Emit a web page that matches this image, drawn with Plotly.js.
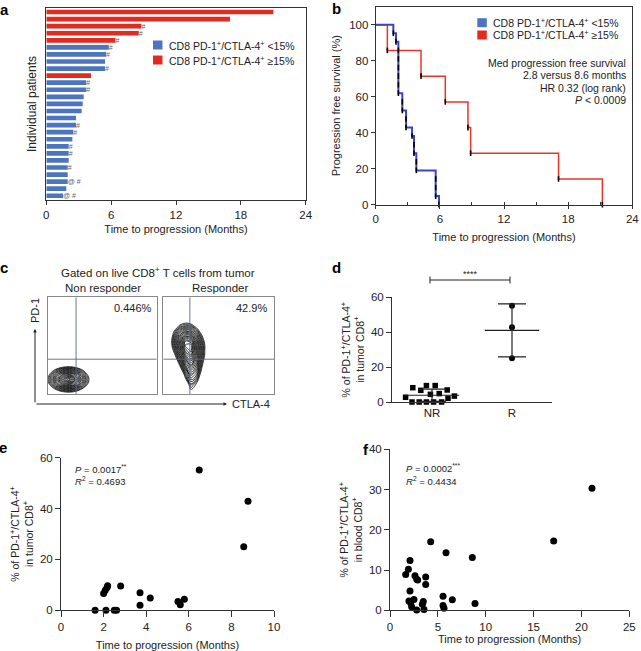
<!DOCTYPE html>
<html><head><meta charset="utf-8">
<script src="https://cdn.plot.ly/plotly-3.0.1.min.js"></script>
<style>html,body{margin:0;padding:0;background:#fff}#chart{width:641px;height:651px}</style>
</head><body><div id="chart"></div>
<script>
// ---------- DATA ----------
// Panel a: time to progression per patient (top to bottom)
const patientTTP = [21.0,17.0,8.8,8.55,6.4,5.78,5.53,5.43,5.43,4.14,3.7,3.7,3.46,3.37,3.27,2.75,2.75,2.5,2.41,2.07,2.07,2.07,1.98,1.98,1.98,1.85,1.55];
const patientGroup = ['hi','hi','hi','hi','hi','lo','lo','lo','lo','hi','lo','lo','lo','lo','lo','lo','lo','lo','lo','lo','lo','lo','lo','lo','lo','lo','lo'];
const patientNote = ['','','#','#','#','#','#','','#','','#','#','','','','','#','#','','#','#','','#','','@ #','','@ #'];
const groupLabels = ['CD8 PD-1<sup>+</sup>/CTLA-4<sup>+</sup> &lt;15%','CD8 PD-1<sup>+</sup>/CTLA-4<sup>+</sup> ≥15%'];

// Panel b: Kaplan-Meier steps
const kmLowT = [1.65,1.9,2.12,2.49,2.84,3.40,3.58,3.80,5.61,5.92];
const kmLowS = [95.2,90.5,61.9,52.4,42.9,38.1,28.6,19.0,4.8,0];
const kmHighT = [1.09,4.24,6.51,8.63,8.88,17.1,21.2];
const kmHighS = [85.7,71.4,57.1,42.9,28.6,14.3,0];
const kmLowN = 21, kmHighN = 7;
const kmText = ['Med progression free survival','2.8 versus 8.6 months','HR 0.32 (log rank)','<i>P</i> &lt; 0.0009'];

// Panel c: estimated contour density levels (CTLA-4 x PD-1, box units 0-100)
const ncGridX = [0,5,10,15,20,25,30,35,40,45];
const ncGridY = [0,5,10,15,20,25,30,35];
const ncDensity = [
 [-4.8,-3.2,-2.0,-1.3,-1.1,-1.5,-2.5,-3.8,-5.5,-7.4],
 [-2.2,-0.3,1.3,2.3,2.6,2.0,0.7,-1.1,-3.1,-5.3],
 [-0.4,1.9,4.1,5.8,6.3,5.2,3.3,1.0,-1.4,-3.8],
 [0.26,2.8,5.4,7.9,9.5,6.9,4.4,1.8,-0.8,-3.3],
 [-0.4,1.9,4.1,5.8,6.3,5.2,3.3,1.0,-1.4,-3.8],
 [-2.0,-0.1,1.5,2.5,2.8,2.2,0.9,-0.9,-2.9,-5.1],
 [-4.8,-3.2,-2.0,-1.3,-1.1,-1.5,-2.5,-3.8,-5.5,-7.4],
 [-9,-7,-6,-5,-4.8,-5,-6,-7,-8,-10]];
const rcGridX = [0,5,10,15,20,25,30,35,40,45];
const rcGridY = [0,10,20,30,40,45,50,55,60,65,70,75,80];
const rcDensity = [
 [-28.6,-21.8,-15.2,-9.0,-3.7,-0.7,-2.1,-6.7,-12.7,-19.2],
 [-23.6,-17.6,-11.7,-6.2,-1.3,1.4,0.1,-4.1,-9.5,-15.2],
 [-16.8,-12,-7.2,-2.7,1.2,3.5,2.5,-1.0,-5.4,-10],
 [-11.3,-7.2,-3.2,0.6,4.0,5.7,4.0,0.6,-3.2,-7.2],
 [-7.3,-3.7,-0.2,3.2,6.4,7.8,5.2,1.9,-1.6,-5.2],
 [-6.2,-2.4,1.0,4.4,7.6,8.5,5.4,2.0,-1.4,-4.9],
 [-5.3,-1.6,1.8,5.1,8.4,8.7,5.3,2.0,-1.3,-4.7],
 [-5.1,-1.4,1.9,5.0,7.8,7.3,4.6,1.4,-1.8,-5.1],
 [-5.2,-1.8,1.4,4.0,5.9,5.4,3.2,0.4,-2.7,-5.9],
 [-5.6,-2.5,0.4,2.6,3.9,3.3,1.6,-1.0,-3.8,-6.9],
 [-6.3,-3.5,-1.1,0.8,1.6,1.3,-0.3,-2.5,-5.2,-8.0],
 [-7.2,-4.7,-2.5,-1.0,-0.4,-0.8,-2.2,-4.2,-6.7,-9.4],
 [-8.3,-6.0,-4.2,-2.9,-2.5,-2.9,-4.2,-6.0,-8.3,-10.8]];
const gateNR = [26, 36], gateR = [24, 36];
const quadPct = ['0.446%','42.9%'];

// Panel d
const nrValues = [8.2,6.7,9.4,9.4,4.4,4.8,6.9,2.7,3.4,2.1,0,0,0,0,0];
const nrJitter = [-0.24,-0.14,-0.07,0.04,-0.02,0.09,0.19,-0.33,0.28,0.2,-0.25,-0.16,-0.07,0.02,0.12];
const rValues = [55.2,42.9,25.0];
const rJitter = [0,0,0];
const dCats = ['NR','R'];

// Panel e: tumor
const tumorTTP = [1.6,2.0,2.08,2.11,2.16,2.19,2.5,2.61,2.8,3.71,3.71,4.19,5.49,5.6,5.79,6.49,8.58,8.78];
const tumorPct = [0,6.6,7.9,0,9.0,9.7,0,0,9.6,6.9,2.0,4.8,3.5,2.2,4.3,55.2,25.0,42.9];
// Panel f: blood
const bloodTTP = [1.64,1.92,2.09,2.09,1.98,2.16,2.26,2.5,2.61,2.79,2.89,2.79,3.38,3.48,3.55,3.73,3.73,4.25,5.54,5.54,5.64,5.85,6.51,8.6,8.88,17.1,21.1];
const bloodPct = [8.9,10.2,12.4,4.8,2.3,1.9,0.9,2.7,8.6,7.7,7.5,0.1,1.5,2.2,0.2,8.3,6.4,17.0,3.5,1.2,0.5,14.3,2.6,13.1,1.7,17.2,30.3];

// ---------- HELPERS ----------
const W = 641, H = 651;
const X = px => px / W, Y = py => 1 - py / H;
const FONT = 'Liberation Sans, Arial, Helvetica, sans-serif';
const INK = '#222';
const BLUE = '#4d74c1', RED = '#e32a1f';
const mean = a => a.reduce((s, v) => s + v, 0) / a.length;
const sd = a => { const m = mean(a); return Math.sqrt(a.reduce((s, v) => s + (v - m) * (v - m), 0) / (a.length - 1)); };

const traces = [];

// Panel a bars
['lo','hi'].forEach(g => {
  const idx = patientTTP.map((_, i) => i).filter(i => patientGroup[i] === g);
  traces.push({
    type: 'bar', orientation: 'h', xaxis: 'x', yaxis: 'y',
    x: idx.map(i => patientTTP[i]), y: idx.map(i => i + 1),
    text: idx.map(i => patientNote[i]), textposition: 'outside', cliponaxis: false,
    constraintext: 'none', textfont: {size: 7, color: '#666', family: FONT},
    width: 0.66, marker: {color: g === 'hi' ? RED : BLUE, line: {width: 0}},
    hoverinfo: 'skip', showlegend: false
  });
});

// Panel b KM
function kmTrace(T, S, color, w) {
  return {type: 'scatter', mode: 'lines', xaxis: 'x2', yaxis: 'y2',
    x: [0].concat(T), y: [100].concat(S), line: {shape: 'hv', color: color, width: w},
    hoverinfo: 'skip', showlegend: false, cliponaxis: false};
}
function kmMarks(T, S, n) {
  const step = 100 / n, xs = [], ys = [];
  let prev = 100;
  T.forEach((t, i) => {
    const k = Math.round((prev - S[i]) / step);
    for (let j = 1; j <= k; j++) { xs.push(t); ys.push(prev - j * step); }
    prev = S[i];
  });
  return {type: 'scatter', mode: 'markers', xaxis: 'x2', yaxis: 'y2', x: xs, y: ys,
    marker: {symbol: 'line-ns', size: 4, line: {color: '#000', width: 1.6}},
    hoverinfo: 'skip', showlegend: false, cliponaxis: false};
}
traces.push(kmTrace(kmHighT, kmHighS, '#e8352c', 1.5));
traces.push(kmTrace(kmLowT, kmLowS, '#3c44c6', 2));
traces.push(kmMarks(kmHighT, kmHighS, kmHighN));
traces.push(kmMarks(kmLowT, kmLowS, kmLowN));

// Panel c contours
function contour(x, y, z, xa, ya, step) {
  return {type: 'contour', x: x, y: y, z: z, xaxis: xa, yaxis: ya,
    autocontour: false, contours: {start: 0.3, end: 10, size: step, coloring: 'lines'},
    colorscale: [[0, '#000'], [1, '#000']], showscale: false,
    line: {width: 0.75, smoothing: 1.3}, hoverinfo: 'skip'};
}
traces.push(contour(ncGridX, ncGridY, ncDensity, 'x3', 'y3', 0.45));
traces.push(contour(rcGridX, rcGridY, rcDensity, 'x4', 'y4', 0.42));

// Panel d
traces.push({type: 'scatter', mode: 'markers', xaxis: 'x5', yaxis: 'y5',
  x: nrJitter.map(j => 0 + j), y: nrValues, cliponaxis: false,
  marker: {symbol: 'square', size: 5.5, color: '#000'}, hoverinfo: 'skip', showlegend: false});
traces.push({type: 'scatter', mode: 'markers', xaxis: 'x5', yaxis: 'y5',
  x: rJitter.map(j => 1 + j), y: rValues, cliponaxis: false,
  marker: {symbol: 'circle', size: 6, color: '#000'}, hoverinfo: 'skip', showlegend: false});
[nrValues, rValues].forEach((vals, c) => {
  const m = mean(vals), s = sd(vals);
  traces.push({type: 'scatter', mode: 'lines', xaxis: 'x5', yaxis: 'y5',
    x: [c - 0.34, c + 0.34], y: [m, m], line: {color: INK, width: 1.2},
    hoverinfo: 'skip', showlegend: false, cliponaxis: false});
  traces.push({type: 'scatter', mode: 'markers', xaxis: 'x5', yaxis: 'y5',
    x: [c], y: [m], marker: {size: 1, color: 'rgba(0,0,0,0)'},
    error_y: {type: 'data', array: [s], visible: true, color: INK, thickness: 1.2, width: 14},
    hoverinfo: 'skip', showlegend: false, cliponaxis: false});
});

// Panel e, f
traces.push({type: 'scatter', mode: 'markers', xaxis: 'x6', yaxis: 'y6', x: tumorTTP, y: tumorPct,
  cliponaxis: false, marker: {size: 7, color: '#000'}, hoverinfo: 'skip', showlegend: false});
traces.push({type: 'scatter', mode: 'markers', xaxis: 'x7', yaxis: 'y7', x: bloodTTP, y: bloodPct,
  cliponaxis: false, marker: {size: 7, color: '#000'}, hoverinfo: 'skip', showlegend: false});

// ---------- LAYOUT ----------
const tickFont = {family: FONT, size: 11.5, color: INK};
const titleFont = {family: FONT, size: 11, color: INK};
const ytFont = {family: FONT, size: 10.5, color: INK};
function ax(extra) {
  return Object.assign({showgrid: false, zeroline: false, showline: true, linecolor: '#333', linewidth: 1,
    ticks: 'outside', ticklen: 4, tickcolor: '#333', tickfont: tickFont, fixedrange: true}, extra);
}
const layout = {
  width: W, height: H, margin: {l: 0, r: 0, t: 0, b: 0},
  paper_bgcolor: '#fff', plot_bgcolor: '#fff', font: {family: FONT, color: INK}, showlegend: false,
  hovermode: false,
  // a
  xaxis: ax({domain: [X(46.3), X(305.7)], anchor: 'y', range: [0, 24], tickvals: [0,6,12,18,24], mirror: true,
    title: {text: 'Time to progression (Months)', font: titleFont, standoff: 5}}),
  yaxis: ax({domain: [Y(200), Y(8)], anchor: 'x', range: [27.6, 0.43], ticks: '', showticklabels: false, mirror: true,
    title: {text: 'Individual patients', font: {family: FONT, size: 12, color: INK}, standoff: 6}}),
  // b
  xaxis2: ax({domain: [X(375.7), X(632.3)], anchor: 'y2', range: [0, 24], tickvals: [0,6,12,18,24], mirror: true, ticklen: 3,
    minor: {dtick: 3, ticks: 'inside', ticklen: 3, tickcolor: '#333'},
    title: {text: 'Time to progression (Months)', font: titleFont, standoff: 9}}),
  yaxis2: ax({domain: [Y(204.7), Y(6.7)], anchor: 'x2', range: [0, 110], tickvals: [0,20,40,60,80,100], mirror: true,
    title: {text: 'Progression free survival (%)', font: titleFont, standoff: 6}}),
  // c
  xaxis3: ax({domain: [X(47.7), X(156.7)], anchor: 'y3', range: [0, 100], ticks: '', showticklabels: false, mirror: true, linecolor: '#888'}),
  yaxis3: ax({domain: [Y(394), Y(297.3)], anchor: 'x3', range: [0, 100], ticks: '', showticklabels: false, mirror: true, linecolor: '#888'}),
  xaxis4: ax({domain: [X(163.3), X(274)], anchor: 'y4', range: [0, 100], ticks: '', showticklabels: false, mirror: true, linecolor: '#888'}),
  yaxis4: ax({domain: [Y(394), Y(297.3)], anchor: 'x4', range: [0, 100], ticks: '', showticklabels: false, mirror: true, linecolor: '#888'}),
  // d
  xaxis5: ax({domain: [X(392), X(552)], anchor: 'y5', range: [-0.5, 1.5], tickvals: [0, 1], ticktext: dCats, ticks: ''}),
  yaxis5: ax({domain: [Y(402), Y(297.3)], anchor: 'x5', range: [0, 60], tickvals: [0,20,40,60], ticklen: 5,
    title: {text: '% of PD-1<sup>+</sup>/CTLA-4<sup>+</sup><br>in tumor CD8<sup>+</sup>', font: ytFont, standoff: 4}}),
  // e
  xaxis6: ax({domain: [X(61), X(274)], anchor: 'y6', range: [0, 10], tickvals: [0,2,4,6,8,10], ticklen: 6,
    title: {text: 'Time to progression (Months)', font: titleFont, standoff: 10}}),
  yaxis6: ax({domain: [Y(610.3), Y(457.7)], anchor: 'x6', range: [0, 60], tickvals: [0,20,40,60], ticklen: 5,
    title: {text: '% of PD-1<sup>+</sup>/CTLA-4<sup>+</sup><br>in tumor CD8<sup>+</sup>', font: ytFont, standoff: 4}}),
  // f
  xaxis7: ax({domain: [X(390), X(629.3)], anchor: 'y7', range: [0, 25], tickvals: [0,5,10,15,20,25], ticklen: 6,
    title: {text: 'Time to progression (Months)', font: titleFont, standoff: 1}}),
  yaxis7: ax({domain: [Y(610.3), Y(449.3)], anchor: 'x7', range: [0, 40], tickvals: [0,10,20,30,40], ticklen: 5,
    title: {text: '% of PD-1<sup>+</sup>/CTLA-4<sup>+</sup><br>in blood CD8<sup>+</sup>', font: ytFont, standoff: 4}}),
  shapes: [],
  annotations: []
};

const S = layout.shapes, A = layout.annotations;
function txt(x, y, text, o) {
  A.push(Object.assign({xref: 'paper', yref: 'paper', x: X(x), y: Y(y), text: text, showarrow: false,
    xanchor: 'left', yanchor: 'middle', font: {family: FONT, size: 10.5, color: INK}}, o || {}));
}
// panel letters
[['a',4,9],['b',336,8],['c',4,267],['d',336,267],['e',3,447],['f',366,449]].forEach(p =>
  txt(p[1], p[2], '<b>' + p[0] + '</b>', {xanchor: 'center', font: {family: FONT, size: 15, color: '#000'}}));

// legends a & b
function legend(x0, y0, dy) {
  [BLUE, RED].forEach((c, i) => {
    const yc = y0 + i * dy;
    S.push({type: 'rect', xref: 'paper', yref: 'paper', x0: X(x0), x1: X(x0 + 9.5), y0: Y(yc + 4.5), y1: Y(yc - 4.5),
      fillcolor: c, line: {width: 0}});
    txt(x0 + 14, yc, groupLabels[i]);
  });
}
legend(153, 45, 15);
legend(477.3, 22.7, 12.3);
// KM text
kmText.forEach((t, i) => txt(628, 63 + i * 12.4, t, {xanchor: 'right'}));

// panel c text
txt(157.5, 271.7, 'Gated on live CD8<sup>+</sup> T cells from tumor', {xanchor: 'center', font: {family: FONT, size: 11.5, color: INK}});
txt(102.5, 288, 'Non responder', {xanchor: 'center', font: {family: FONT, size: 11.5, color: INK}});
txt(220, 288, 'Responder', {xanchor: 'center', font: {family: FONT, size: 11.5, color: INK}});
txt(154, 307.7, quadPct[0], {xanchor: 'right', font: {family: FONT, size: 11, color: INK}});
txt(269, 307.7, quadPct[1], {xanchor: 'right', font: {family: FONT, size: 11, color: INK}});
[[gateNR, 'x3', 'y3'], [gateR, 'x4', 'y4']].forEach(g => {
  S.push({type: 'line', xref: g[1], yref: g[2], x0: g[0][0], x1: g[0][0], y0: 0, y1: 100, line: {color: '#5a6690', width: 0.9}});
  S.push({type: 'line', xref: g[1], yref: g[2], x0: 0, x1: 100, y0: g[0][1], y1: g[0][1], line: {color: '#5a6690', width: 0.9}});
});
// PD-1 / CTLA-4 arrows
A.push({xref: 'paper', yref: 'paper', x: X(35), y: Y(329), ax: 0, ay: 75, text: '', showarrow: true,
  arrowhead: 2, arrowsize: 0.7, arrowwidth: 1, arrowcolor: INK});
A.push({xref: 'paper', yref: 'paper', x: X(227), y: Y(404), ax: -192, ay: 0, text: '', showarrow: true,
  arrowhead: 2, arrowsize: 0.7, arrowwidth: 1, arrowcolor: INK});
txt(35, 311, 'PD-1', {xanchor: 'center', textangle: -90, font: {family: FONT, size: 11, color: INK}});
txt(230, 404, 'CTLA-4', {font: {family: FONT, size: 11, color: INK}});

// panel d significance bracket
S.push({type: 'line', xref: 'paper', yref: 'paper', x0: X(430), x1: X(510), y0: Y(280), y1: Y(280), line: {color: INK, width: 1}});
S.push({type: 'line', xref: 'paper', yref: 'paper', x0: X(430), x1: X(430), y0: Y(276.5), y1: Y(283.5), line: {color: INK, width: 1}});
S.push({type: 'line', xref: 'paper', yref: 'paper', x0: X(510), x1: X(510), y0: Y(276.5), y1: Y(283.5), line: {color: INK, width: 1}});
txt(470, 273.5, '****', {xanchor: 'center', font: {family: FONT, size: 9, color: INK}});

// stats e/f
txt(73, 469, '<i>P</i> = 0.0017<sup>**</sup>', {font: {family: FONT, size: 9.5, color: INK}});
txt(73, 481, '<i>R</i><sup>2</sup> = 0.4693', {font: {family: FONT, size: 9.5, color: INK}});
txt(404, 468, '<i>P</i> = 0.0002<sup>***</sup>', {font: {family: FONT, size: 9.5, color: INK}});
txt(404, 481, '<i>R</i><sup>2</sup> = 0.4434', {font: {family: FONT, size: 9.5, color: INK}});

Plotly.newPlot('chart', traces, layout, {displayModeBar: false, staticPlot: true});
</script>
</body></html>
